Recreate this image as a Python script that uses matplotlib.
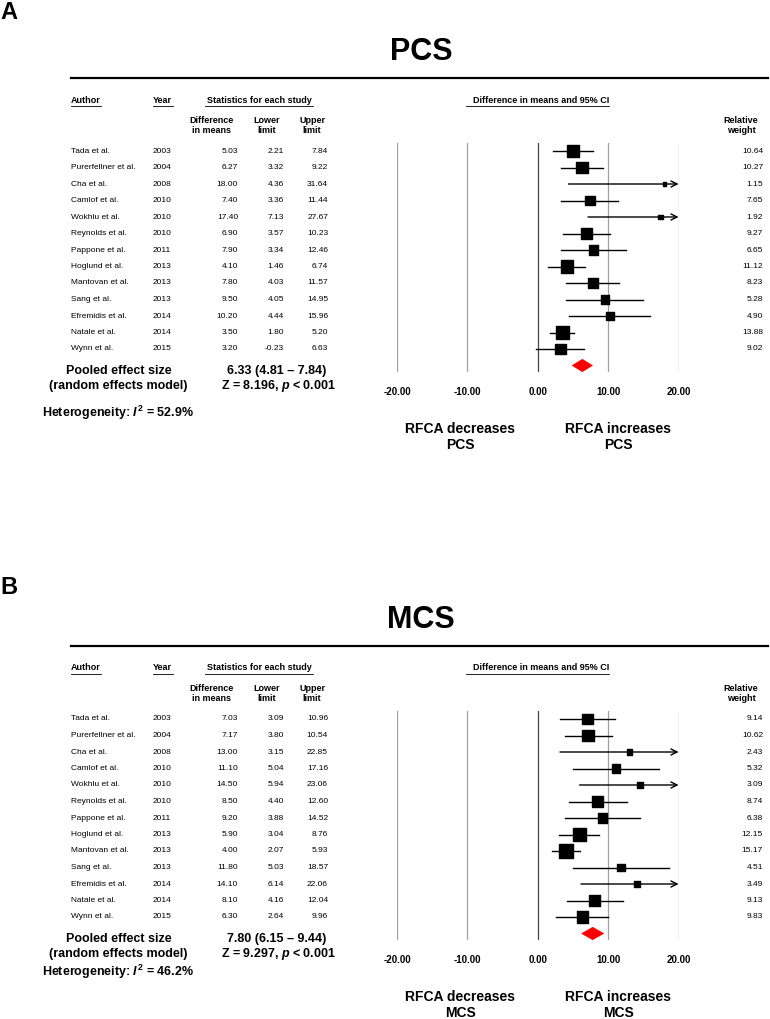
import numpy as np
import matplotlib
matplotlib.use("Agg")
import matplotlib.pyplot as plt
from matplotlib.patches import Polygon

plt.rcParams['font.family'] = ['Liberation Sans', 'DejaVu Sans']
plt.rcParams['mathtext.fontset'] = 'custom'
plt.rcParams['mathtext.it'] = 'Liberation Sans:bold:italic'
plt.rcParams['mathtext.rm'] = 'Liberation Sans:bold'
plt.rcParams['mathtext.bf'] = 'Liberation Sans:bold'

authors = ["Tada et al.", "Purerfellner et al.", "Cha et al.", "Camlof et al.", "Wokhlu et al.",
           "Reynolds et al.", "Pappone et al.", "Hoglund et al.", "Mantovan et al.", "Sang et al.",
           "Efremidis et al.", "Natale et al.", "Wynn et al."]
years = [2003, 2004, 2008, 2010, 2010, 2010, 2011, 2013, 2013, 2013, 2014, 2014, 2015]

# PCS
pcs_diff = [5.03, 6.27, 18.00, 7.40, 17.40, 6.90, 7.90, 4.10, 7.80, 9.50, 10.20, 3.50, 3.20]
pcs_low = [2.21, 3.32, 4.36, 3.36, 7.13, 3.57, 3.34, 1.46, 4.03, 4.05, 4.44, 1.80, -0.23]
pcs_up = [7.84, 9.22, 31.64, 11.44, 27.67, 10.23, 12.46, 6.74, 11.57, 14.95, 15.96, 5.20, 6.63]
pcs_wt = [10.64, 10.27, 1.15, 7.65, 1.92, 9.27, 6.65, 11.12, 8.23, 5.28, 4.90, 13.88, 9.02]
pcs_pooled = (6.33, 4.81, 7.84)
pcs_z = "8.196"
pcs_i2 = "52.9"

# MCS
mcs_diff = [7.03, 7.17, 13.00, 11.10, 14.50, 8.50, 9.20, 5.90, 4.00, 11.80, 14.10, 8.10, 6.30]
mcs_low = [3.09, 3.80, 3.15, 5.04, 5.94, 4.40, 3.88, 3.04, 2.07, 5.03, 6.14, 4.16, 2.64]
mcs_up = [10.96, 10.54, 22.85, 17.16, 23.06, 12.60, 14.52, 8.76, 5.93, 18.57, 22.06, 12.04, 9.96]
mcs_wt = [9.14, 10.62, 2.43, 5.32, 3.09, 8.74, 6.38, 12.15, 15.17, 4.51, 3.49, 9.13, 9.83]
mcs_pooled = (7.80, 6.15, 9.44)
mcs_z = "9.297"
mcs_i2 = "46.2"

ticks = [-20, -10, 0, 10, 20]

W, H = 770, 1019
fig = plt.figure(figsize=(W / 100, H / 100), dpi=100)
tx = fig.add_axes([0, 0, 1, 1])
tx.set_xlim(0, W)
tx.set_ylim(H, 0)
tx.axis('off')

ROW0 = 151
DY = 16.5


def panel(off, letter, title, diff, low, up, wt, pooled, z, i2, het_y):
    tx.text(0, letter[1], letter[0], fontsize=17, fontweight='bold', ha='left', va='center')
    tx.text(421, 52 + off, title, fontsize=22, fontweight='bold', ha='center', va='center')
    tx.plot([71, 768], [78 + off, 78 + off], color='black', lw=1.6)

    hy = 100 + off
    tx.text(71, hy, "Author", fontsize=6.5, fontweight='bold', va='center')
    tx.plot([71, 101], [hy + 6, hy + 6], color='black', lw=0.6)
    tx.text(152.5, hy, "Year", fontsize=6.5, fontweight='bold', va='center')
    tx.plot([152.5, 173], [hy + 6, hy + 6], color='black', lw=0.6)
    tx.text(259, hy, "Statistics for each study", fontsize=6.5, fontweight='bold',
            ha='center', va='center')
    tx.plot([205, 313], [hy + 6, hy + 6], color='black', lw=0.6)
    tx.text(541, hy, "Difference in means and 95% CI", fontsize=6.5, fontweight='bold',
            ha='center', va='center')
    tx.plot([466, 609], [hy + 6, hy + 6], color='black', lw=0.6)

    sy = 125.5 + off
    for x, s in [(212, "Difference\nin means"), (267, "Lower\nlimit"), (312, "Upper\nlimit"),
                 (741, "Relative\nweight")]:
        tx.text(x, sy, s, fontsize=6.5, fontweight='bold', ha='center', va='center',
                linespacing=1.15)

    for i in range(len(authors)):
        y = ROW0 + DY * i + off
        tx.text(71, y, authors[i], fontsize=6, va='center')
        tx.text(152.5, y, str(years[i]), fontsize=6, va='center')
        tx.text(238, y, "%.2f" % diff[i], fontsize=6, va='center', ha='right')
        tx.text(284, y, "%.2f" % low[i], fontsize=6, va='center', ha='right')
        tx.text(328, y, "%.2f" % up[i], fontsize=6, va='center', ha='right')
        tx.text(763, y, "%.2f" % wt[i], fontsize=6, va='center', ha='right')

    py = 371 + off
    tx.text(118.5, py, "Pooled effect size", fontsize=9, fontweight='bold', ha='center', va='center')
    tx.text(118.5, py + 15, "(random effects model)", fontsize=9, fontweight='bold',
            ha='center', va='center')
    tx.text(277, py, "%.2f (%.2f \u2013 %.2f)" % pooled, fontsize=9, fontweight='bold',
            ha='center', va='center')
    tx.text(278, py + 15, "Z = %s, $p$ < 0.001" % z, fontsize=9, fontweight='bold',
            ha='center', va='center')
    tx.text(41.5, het_y, "Heterogeneity: $I^{\\mathrm{2}}$ = %s%%" % i2, fontsize=9,
            fontweight='bold', va='center')

    for x, lab in [(460, "RFCA decreases\n" + title), (618, "RFCA increases\n" + title)]:
        tx.text(x, 437 + off, lab, fontsize=10, fontweight='bold', ha='center', va='center',
                linespacing=1.2)

    # forest axes: x -20..20 spans px 397..678.6, rows spaced DY px
    ylo, yhi = -0.5, 13.4
    top = ROW0 + ylo * DY + off
    bot = ROW0 + yhi * DY + off
    ax = fig.add_axes([397 / W, 1 - bot / H, (678.6 - 397) / W, (bot - top) / H])
    ax.set_xlim(-20, 20)
    ax.set_ylim(yhi, ylo)
    ax.patch.set_visible(False)
    for sp in ax.spines.values():
        sp.set_visible(False)
    ax.set_yticks([])
    ax.set_xticks(ticks)
    ax.set_xticklabels(["%.2f" % t for t in ticks], fontsize=7, fontweight='bold')
    ax.tick_params(axis='x', length=0, pad=11)
    for t in ticks:
        ax.axvline(t, color='#444444' if t == 0 else '#a0a0a0', lw=0.9, zorder=0)

    rows = np.arange(len(diff))
    for r in rows:
        if up[r] > 20:
            ax.annotate('', xy=(20, r), xytext=(low[r], r),
                        arrowprops=dict(arrowstyle='->', lw=1.0, color='black',
                                        mutation_scale=11, shrinkA=0, shrinkB=0))
        else:
            ax.plot([low[r], up[r]], [r, r], color='black', lw=1.0, clip_on=False)
    side = 3.6 * np.sqrt(np.array(wt)) * 0.72
    ax.scatter(diff, rows, s=side ** 2, marker='s', color='black', zorder=3, clip_on=False)

    est, lo, hi = pooled
    h = 0.4
    ax.add_patch(Polygon([(lo, 13), (est, 13 - h), (hi, 13), (est, 13 + h)],
                         closed=True, color='red', lw=0, clip_on=False))


panel(0, ("A", 12), "PCS", pcs_diff, pcs_low, pcs_up, pcs_wt, pcs_pooled, pcs_z, pcs_i2, 413)
panel(568, ("B", 588), "MCS", mcs_diff, mcs_low, mcs_up, mcs_wt, mcs_pooled, mcs_z, mcs_i2, 972)

fig.savefig("out.png", dpi=100)
